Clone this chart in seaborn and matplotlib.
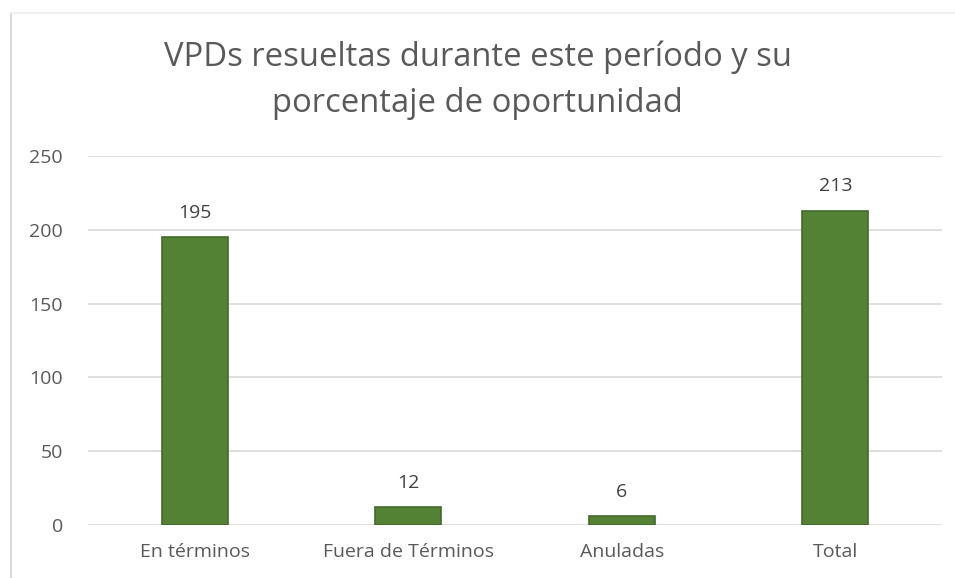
import matplotlib
matplotlib.use("Agg")
import matplotlib.pyplot as plt
import seaborn as sns
import pandas as pd

categorias = ["En términos", "Fuera de Términos", "Anuladas", "Total"]
valores = [195, 12, 6, 213]
titulo = "VPDs resueltas durante este período y su\nporcentaje de oportunidad"

sns.set_theme(style="white")
plt.rcParams["font.family"] = ["Open Sans", "DejaVu Sans"]

df = pd.DataFrame({"cat": categorias, "val": valores})

fig = plt.figure(figsize=(9.55, 5.78), dpi=100)
ax = fig.add_axes([88 / 955, 1 - 525 / 578, (942 - 88) / 955, (525 - 156) / 578])

sns.barplot(data=df, x="cat", y="val", color="#548235", width=0.31,
            edgecolor="#436b2b", linewidth=1.2, saturation=1, ax=ax)

ax.set_ylim(0, 250)
ax.set_yticks(range(0, 251, 50))
ax.yaxis.grid(True, color="#d9d9d9", linewidth=1.2)
ax.set_axisbelow(True)
for s in ax.spines.values():
    s.set_visible(False)
ax.set_xlabel("")
ax.set_ylabel("")
ax.tick_params(axis="both", length=0, colors="#595959", labelsize=14)
ax.tick_params(axis="y", pad=18)
ax.tick_params(axis="x", pad=13)

for i, v in enumerate(valores):
    ax.annotate(str(v), (i, v), xytext=(0, 11), textcoords="offset points",
                ha="center", va="bottom", fontsize=14, color="#404040")

fig.text(0.5, 1 - 80.5 / 578, titulo, ha="center", va="center", fontsize=23.6,
         color="#595959", linespacing=1.5)

# borde del área del gráfico
fig.add_artist(plt.Line2D([11 / 955, 11 / 955], [0, 1 - 13 / 578],
                          color="#d9d9d9", linewidth=1.5))
fig.add_artist(plt.Line2D([11 / 955, 1], [1 - 13 / 578, 1 - 13 / 578],
                          color="#efefef", linewidth=1.5))

fig.savefig("out.png", dpi=100)
